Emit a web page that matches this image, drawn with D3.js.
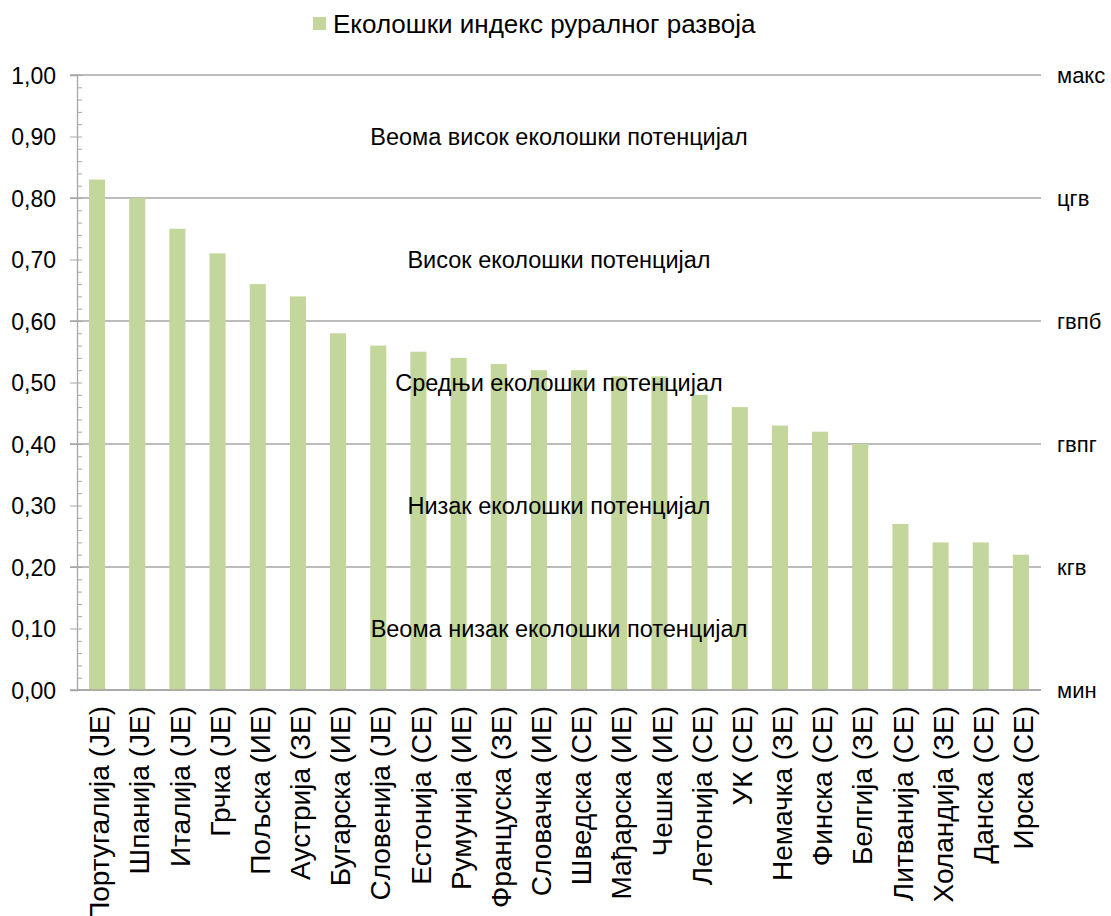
<!DOCTYPE html>
<html>
<head>
<meta charset="utf-8">
<script src="https://cdn.jsdelivr.net/npm/d3@7"></script>
<style>
  body { margin: 0; background: #fff; }
  text { font-family: "Liberation Sans", Arial, sans-serif; fill: #000; }
</style>
</head>
<body>
<script>
const countries = ['Португалија (JE)', 'Шпанија (JE)', 'Италија (JE)', 'Грчка (JE)', 'Пољска (ИЕ)',
    'Аустрија (ЗЕ)', 'Бугарска (ИЕ)', 'Словенија (JE)', 'Естонија (СЕ)', 'Румунија (ИЕ)',
    'Француска (ЗЕ)', 'Словачка (ИЕ)', 'Шведска (СЕ)', 'Мађарска (ИЕ)', 'Чешка (ИЕ)',
    'Летонија (СЕ)', 'УК (СЕ)', 'Немачка (ЗЕ)', 'Финска (СЕ)', 'Белгија (ЗЕ)',
    'Литванија (СЕ)', 'Холандија (ЗЕ)', 'Данска (СЕ)', 'Ирска (СЕ)']
const values = [0.83, 0.80, 0.75, 0.71, 0.66, 0.64, 0.58, 0.56, 0.55, 0.54, 0.53, 0.52,
    0.52, 0.51, 0.51, 0.48, 0.46, 0.43, 0.42, 0.40, 0.27, 0.24, 0.24, 0.22]
const seriesName = 'Еколошки индекс руралног развоја'
const levels = [1.0, 0.8, 0.6, 0.4, 0.2, 0.0]
const levelNames = ['макс', 'цгв', 'гвпб', 'гвпг', 'кгв', 'мин']
const bandMids = [0.9, 0.7, 0.5, 0.3, 0.1]
const bandNames = ['Веома висок еколошки потенцијал', 'Висок еколошки потенцијал',
    'Средњи еколошки потенцијал', 'Низак еколошки потенцијал', 'Веома низак еколошки потенцијал']

let margin = { top: 75, right: 70, bottom: 226, left: 77 },
    width = 1111 - margin.left - margin.right,
    height = 916 - margin.top - margin.bottom

const barColor = '#c3d69b'

let svg = d3.select('body').append('svg')
    .attr('width', 1111)
    .attr('height', 916)

let g = svg.append('g')
    .attr('transform', 'translate(' + margin.left + ',' + margin.top + ')')

let x = d3.scaleBand().domain(countries).range([0, width]).paddingInner(0.6).paddingOuter(0.3)
let y = d3.scaleLinear().domain([0, 1]).range([height, 0])

// gridlines at the level thresholds
g.append('g')
    .selectAll('line')
    .data(levels).enter()
    .append('line')
    .attr('x1', -7)
    .attr('x2', width)
    .attr('y1', d => y(d))
    .attr('y2', d => y(d))
    .attr('stroke', '#a6a6a6')
    .attr('stroke-width', 1.3)

// bars
g.append('g')
    .selectAll('rect')
    .data(values).enter()
    .append('rect')
    .attr('fill', barColor)
    .attr('x', (d, i) => x(countries[i]))
    .attr('width', x.bandwidth())
    .attr('y', d => y(d))
    .attr('height', d => height - y(d))

// minor ticks (inside)
g.append('g')
    .call(d3.axisRight(y).ticks(50).tickSize(5).tickFormat(''))
    .call(a => a.select('.domain').remove())
    .selectAll('line').attr('stroke', '#a6a6a6')

// y axis
let yAxis = g.append('g')
    .call(d3.axisLeft(y).ticks(10).tickSize(7).tickPadding(14)
        .tickFormat(d => d3.format('.2f')(d).replace('.', ',')))
yAxis.select('.domain').attr('stroke', '#a6a6a6').attr('stroke-width', 1.3)
yAxis.selectAll('line').attr('stroke', '#a6a6a6')
yAxis.selectAll('text').style('font-size', '23px').attr('dy', '0.35em')

// x axis line
g.append('line')
    .attr('x1', 0).attr('x2', width)
    .attr('y1', height).attr('y2', height)
    .attr('stroke', '#a6a6a6').attr('stroke-width', 1.3)

// category labels
g.append('g')
    .selectAll('text')
    .data(countries).enter()
    .append('text')
    .attr('transform', d => 'translate(' + (x(d) + x.bandwidth() / 2 + 2) + ',' + (height + 16) + ') rotate(-90)')
    .attr('text-anchor', 'end')
    .attr('dy', '0.36em')
    .style('font-size', '28px')
    .text(d => d)

// level names on the right
g.append('g')
    .selectAll('text')
    .data(levels).enter()
    .append('text')
    .attr('x', width + 16)
    .attr('y', d => y(d))
    .attr('dy', '0.35em')
    .style('font-size', '22px')
    .text((d, i) => levelNames[i])

// band annotations
g.append('g')
    .selectAll('text')
    .data(bandMids).enter()
    .append('text')
    .attr('x', width / 2)
    .attr('y', d => y(d))
    .attr('dy', '0.35em')
    .attr('text-anchor', 'middle')
    .style('font-size', '23.5px')
    .text((d, i) => bandNames[i])

// legend
let legend = svg.append('g').attr('transform', 'translate(313, 17)')
legend.append('rect')
    .attr('width', 13).attr('height', 13)
    .attr('fill', barColor)
legend.append('text')
    .attr('x', 20)
    .attr('y', 7)
    .attr('dy', '0.35em')
    .style('font-size', '26px')
    .text(seriesName)
</script>
</body>
</html>
